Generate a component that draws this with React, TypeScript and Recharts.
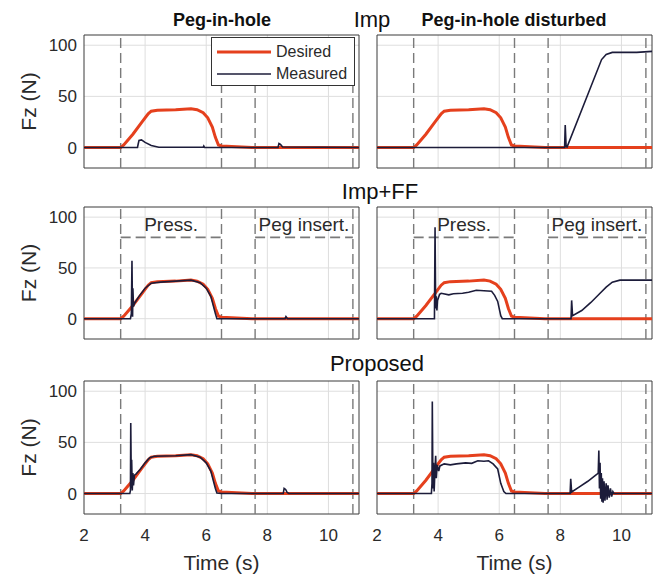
import { LineChart, Line, XAxis, YAxis, CartesianGrid, ReferenceLine, ReferenceArea, Legend } from "recharts";

type Pt = [number, number];

const timeTicks = [2, 4, 6, 8, 10];
const forceTicks = [0, 50, 100];
const phaseTimes = [3.2, 6.5, 7.6, 10.8];
const phaseLabels = ["Press.", "Peg insert."];
const phaseLevel = 80;
const rowTitles = ["Imp", "Imp+FF", "Proposed"];
const colTitles = ["Peg-in-hole", "Peg-in-hole disturbed"];

// desired force profile (same for every panel)
const desired: Pt[] = [
  [2, 0], [3.2, 0], [3.3, 2.5], [3.6, 13], [3.9, 25], [4.1, 33], [4.2, 35.5], [4.4, 36.5],
  [5.0, 37], [5.5, 38], [5.7, 37], [5.9, 34], [6.05, 29], [6.2, 20], [6.3, 10], [6.4, 2.5],
  [6.5, 1.5], [7.0, 0.8], [7.5, 0], [11, 0],
];

const impHole: Pt[] = [
  [2, 0], [3.75, 0], [3.77, 3], [3.8, 7], [3.88, 7.5], [4.0, 5], [4.2, 2], [4.45, 0.3],
  [5.9, 0.3], [5.92, 1.5], [5.95, 0], [8.35, 0], [8.38, 4], [8.43, 3], [8.5, 0.5], [11, 0],
];

const impDist: Pt[] = [
  [2, 0], [8.14, 0], [8.16, 22], [8.19, 1], [8.22, 0.5], [9.35, 86], [9.5, 91], [9.7, 93],
  [10.5, 93], [11, 94],
];

const ffHole: Pt[] = [
  [2, 0], [3.52, 0], [3.55, 5], [3.57, 57], [3.58, 28], [3.59, 2], [3.6, 30], [3.62, 12],
  [3.65, 15], [3.8, 22], [4.0, 30], [4.2, 35], [4.5, 36], [5.0, 37], [5.5, 38], [5.8, 35.5],
  [6.0, 30], [6.15, 22], [6.3, 5], [6.35, 0], [8.58, 0], [8.61, 2], [8.66, 0], [11, 0],
];

const ffDist: Pt[] = [
  [2, 0], [3.88, 0], [3.9, 90], [3.92, 10], [3.94, 22], [3.96, 8], [3.98, 18], [4.05, 24],
  [4.1, 25], [4.35, 23.5], [4.5, 24.5], [4.8, 25], [5.0, 26], [5.25, 28], [5.5, 27.5],
  [5.75, 27], [5.85, 23], [5.95, 17], [6.05, 3], [6.1, 0], [8.35, 0], [8.37, 18], [8.4, 3],
  [8.7, 8], [9.0, 16], [9.3, 25], [9.5, 31], [9.7, 36], [9.95, 38], [11, 38],
];

const propHole: Pt[] = [
  [2, 0], [3.5, 0], [3.52, 3], [3.53, 69], [3.55, 5], [3.56, 33], [3.58, 3], [3.6, 20],
  [3.62, 8], [3.65, 18], [3.7, 19], [3.85, 24], [4.0, 30], [4.15, 35], [4.3, 36.5], [5.0, 37],
  [5.5, 38], [5.8, 35.5], [6.0, 30], [6.15, 22], [6.3, 5], [6.35, 0.5], [6.5, 0], [8.52, 0],
  [8.55, 5], [8.6, 4], [8.65, 1], [8.7, 0], [11, 0],
];

const propDist: Pt[] = [
  [2, 0], [3.78, 0], [3.8, 10], [3.81, 90], [3.83, 5], [3.85, 30], [3.87, 2], [3.9, 25],
  [3.92, 37], [3.94, 15], [3.97, 28], [4.02, 22], [4.06, 27], [4.2, 29], [4.4, 28], [4.6, 29],
  [4.9, 30], [5.1, 29.5], [5.3, 32], [5.5, 31.5], [5.65, 32], [5.8, 29], [5.95, 24], [6.05, 10],
  [6.15, 2], [6.22, 0], [8.32, 0], [8.34, 14.5], [8.37, 1.5], [8.6, 6], [8.9, 12], [9.2, 19],
  [9.24, 20], [9.26, 42], [9.28, 5], [9.3, 30], [9.32, -5], [9.34, 20], [9.36, -8], [9.38, 15],
  [9.4, -9], [9.43, 12], [9.46, -7], [9.5, 10], [9.53, -6], [9.56, 8], [9.6, -4], [9.64, 5],
  [9.68, -3], [9.72, 2], [9.76, 0], [11, 0],
];

const measured = [
  [impHole, impDist],
  [ffHole, ffDist],
  [propHole, propDist],
];

const RED = "#e5401d";
const NAVY = "#1c1c3a";
const TXT = "#2a2a2a";
const DASH = "#7a7a7a";
const FONT = '"Liberation Sans", Arial, sans-serif';

const rowTop = [0, 180, 350];
const rowHeight = [180, 170, 224];
const rowMarginTop = [35, 27, 31];
const rowMarginBottom = [12, 11, 0];

const toRows = (pts: Pt[]) => pts.map(([t, f]) => ({ t, f }));

const LegendBox = ({ payload }: any) => (
  <div
    style={{
      border: "1px solid #333",
      background: "#fff",
      width: 144,
      height: 49,
      paddingTop: 3,
      boxSizing: "border-box",
      fontSize: 16,
      color: TXT,
    }}
  >
    {(payload || []).map((p: any, i: number) => (
      <div key={i} style={{ display: "flex", alignItems: "center", height: 22 }}>
        <svg width={64} height={10}>
          <line x1={5} x2={59} y1={5} y2={5} stroke={p.color} strokeWidth={i === 0 ? 3 : 1.6} />
        </svg>
        <span>{p.value}</span>
      </div>
    ))}
  </div>
);

const Panel = ({ row, col }: { row: number; col: number }) => {
  const left = col === 0;
  const bottom = row === 2;
  return (
    <div style={{ position: "absolute", left: left ? 0 : 370, top: rowTop[row] }}>
      <LineChart
        width={left ? 370 : 290}
        height={rowHeight[row]}
        margin={{ top: rowMarginTop[row], right: left ? 11 : 8, bottom: rowMarginBottom[row], left: left ? 0 : 7 }}
      >
        <CartesianGrid stroke="#dedede" verticalValues={[4, 6, 8, 10]} horizontalValues={forceTicks} />
        <XAxis
          type="number"
          dataKey="t"
          domain={[2, 11]}
          ticks={timeTicks}
          hide={!bottom}
          height={60}
          axisLine={false}
          tickLine={false}
          tickSize={5}
          tickMargin={10}
          tick={{ fill: TXT, fontSize: 17 }}
          allowDataOverflow
          label={bottom ? { value: "Time (s)", position: "insideBottom", offset: 4, fill: TXT, fontSize: 21 } : undefined}
        />
        <YAxis
          type="number"
          domain={[-20, 110]}
          ticks={forceTicks}
          hide={!left}
          width={84}
          axisLine={false}
          tickLine={false}
          tickSize={5}
          tickMargin={2}
          tick={{ fill: TXT, fontSize: 17 }}
          allowDataOverflow
          label={{ value: "Fz (N)", angle: -90, position: "insideLeft", offset: 29, fill: TXT, fontSize: 21, style: { textAnchor: "middle" } }}
        />
        {phaseTimes.map((x) => (
          <ReferenceLine key={x} x={x} stroke={DASH} strokeWidth={1.4} strokeDasharray="10 5" />
        ))}
        {row === 1 &&
          phaseLabels.map((lab, i) => (
            <ReferenceLine
              key={lab}
              segment={[
                { x: phaseTimes[i * 2], y: phaseLevel },
                { x: phaseTimes[i * 2 + 1], y: phaseLevel },
              ]}
              stroke={DASH}
              strokeWidth={1.8}
              strokeDasharray="10 5"
              label={{ value: lab, position: "top", offset: 6, fill: TXT, fontSize: 19 }}
            />
          ))}
        <Line
          data={toRows(desired)}
          dataKey="f"
          name="Desired"
          type="linear"
          stroke={RED}
          strokeWidth={3}
          dot={false}
          isAnimationActive={false}
        />
        <Line
          data={toRows(measured[row][col])}
          dataKey="f"
          name="Measured"
          type="linear"
          stroke={NAVY}
          strokeWidth={1.6}
          dot={false}
          isAnimationActive={false}
        />
        <ReferenceArea x1={2} x2={11} y1={-20} y2={110} fill="none" stroke="#3a3a3a" strokeWidth={1} />
        {row === 0 && left && (
          <Legend
            layout="horizontal"
            verticalAlign="middle"
            content={<LegendBox />}
            wrapperStyle={{ left: 211, top: 37, width: 146, height: 51 }}
          />
        )}
      </LineChart>
    </div>
  );
};

const Title = ({ text, x, y, size, bold }: { text: string; x: number; y: number; size: number; bold?: boolean }) => (
  <div
    style={{
      position: "absolute",
      left: x,
      top: y,
      transform: "translate(-50%, -50%)",
      fontSize: size,
      fontWeight: bold ? "bold" : "normal",
      lineHeight: 1,
      whiteSpace: "nowrap",
      color: "#111",
    }}
  >
    {text}
  </div>
);

export default function App() {
  return (
    <div
      style={{
        position: "absolute",
        left: 0,
        top: 0,
        width: 653,
        height: 574,
        background: "#fff",
        fontFamily: FONT,
        overflow: "hidden",
      }}
    >
      {[0, 1, 2].map((r) => [0, 1].map((c) => <Panel key={`${r}-${c}`} row={r} col={c} />))}
      <Title text={colTitles[0]} x={222} y={20} size={18} bold />
      <Title text={colTitles[1]} x={514} y={20} size={18} bold />
      <Title text={rowTitles[0]} x={372} y={20} size={22} />
      <Title text={rowTitles[1]} x={380} y={192} size={22} />
      <Title text={rowTitles[2]} x={377} y={364} size={22} />
    </div>
  );
}
